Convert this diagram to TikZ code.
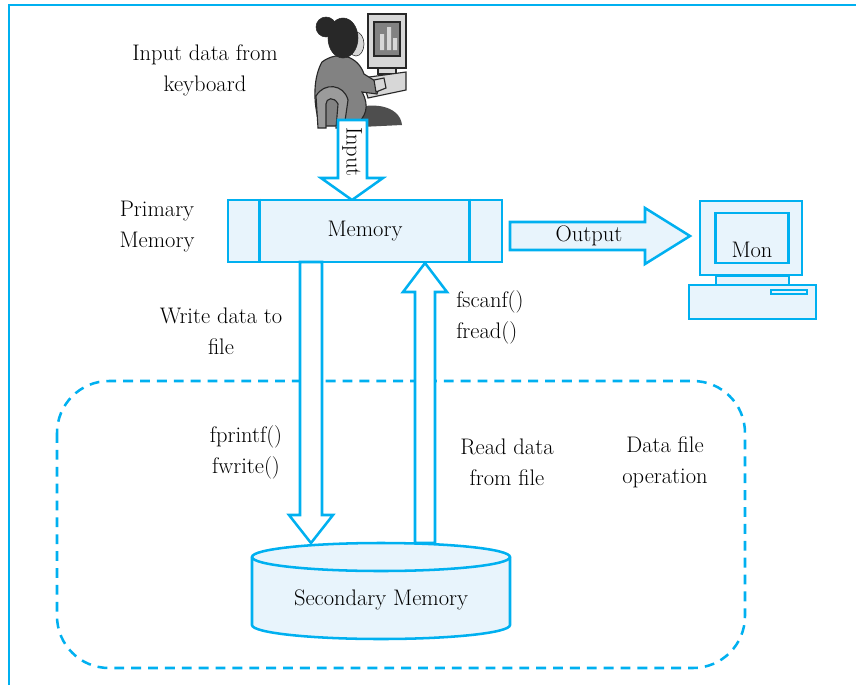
\documentclass[tikz,border=0pt]{standalone}
\usepackage{tikz}
\usepackage{xcolor}
\definecolor{cy}{RGB}{0, 176, 240}
\definecolor{lb}{RGB}{232, 244, 252}
\definecolor{hair}{RGB}{40, 40, 40}
\definecolor{gry}{RGB}{130, 130, 130}
\definecolor{lgr}{RGB}{215, 215, 215}

\tikzset{
    txt/.style={font=\fontsize{16}{22}\selectfont, align=center, inner sep=0pt},
    edge/.style={draw=cy, line width=1.8pt},
    blk/.style={draw=cy, fill=lb, line width=1.8pt},
    hollow/.style={draw=cy, fill=white, line width=1.8pt, line join=miter},
}

\begin{document}
\begin{tikzpicture}[x=0.025cm, y=-0.025cm]
        \useasboundingbox (0, 0) rectangle (856, 685);
        % frame
        \draw[edge] (9, 685) -- (9, 5) -- (856, 5);

        % user at the desk
        \filldraw[draw=hair, fill=lgr, thick] (368, 14) rectangle (406, 68);
        \filldraw[draw=hair, fill=gry, thick] (374, 22) rectangle (400, 56);
        \fill[lgr] (380, 50) rectangle (384, 34) (387, 50) rectangle (391, 27) (393, 50) rectangle (397, 38);
        \filldraw[draw=hair, fill=lgr, thick] (378, 68) rectangle (396, 74);
        \filldraw[draw=hair, fill=lgr, thick] (362, 78) -- (406, 72) -- (406, 90) -- (368, 98) -- cycle;
        \fill[gry!60!black] (345, 112) .. controls (370, 100) and (400, 105) .. (402, 125) -- (340, 128) -- cycle;
        \filldraw[draw=hair, fill=gry, thick] (322, 62) .. controls (338, 50) and (358, 56) .. (364, 74)
            -- (380, 84) -- (377, 94) -- (362, 92) .. controls (370, 106) and (366, 118) .. (354, 126)
            -- (320, 126) .. controls (312, 100) and (314, 76) .. cycle;
        \filldraw[draw=hair, fill=lgr, thick] (374, 80) -- (384, 78) -- (386, 88) -- (376, 92) -- cycle;
        \filldraw[draw=hair, fill=gry!80, thick] (316, 96) .. controls (324, 82) and (344, 84) .. (348, 100)
            -- (344, 128) -- (336, 128) -- (338, 104) .. controls (334, 96) and (326, 98) .. (326, 104)
            -- (326, 128) -- (318, 128) -- cycle;
        \filldraw[draw=hair, fill=lgr] (356, 44) ellipse (8 and 12);
        \filldraw[draw=hair, fill=hair] (343, 38) ellipse (15 and 20);
        \filldraw[draw=hair, fill=hair] (326, 27) circle (10);

        \node[txt] (kbd) at (205, 70) {Input data from\\keyboard};

        % input arrow into memory
        \filldraw[hollow] (338, 120) -- (367, 120) -- (367, 178) -- (383, 178) -- (352, 200)
            -- (321, 178) -- (338, 178) -- cycle;
        \node[txt, rotate=-90] (inp) at (352, 152) {Input};

        % primary memory
        \node[blk, txt, minimum width=6.85cm, minimum height=1.55cm] (mem) at (365, 231) {Memory};
        \draw[edge] (mem.north west) ++(33, 0) -- ++(0, 62);
        \draw[edge] (mem.north east) ++(-34, 0) -- ++(0, 62);
        \node[txt] (prim) at (157, 227) {Primary\\Memory};

        % output arrow to monitor
        \filldraw[blk, line join=miter] (510, 222) -- (645, 222) -- (645, 208) -- (690, 236)
            -- (645, 264) -- (645, 250) -- (510, 250) -- cycle;
        \node[txt] (outp) at (589, 236) {Output};

        % monitor
        \node[blk, minimum width=2.55cm, minimum height=1.85cm] (mon) at (751, 238) {};
        \node[blk, minimum width=1.825cm, minimum height=1.25cm] (scr) at (752, 238) {};
        \node[txt] (monl) at (752, 250) {Mon};
        \filldraw[blk] (716, 276) rectangle (789, 285);
        \filldraw[blk] (689, 285) rectangle (816, 319);
        \filldraw[blk, line width=1.2pt] (771, 290) rectangle (807, 294);

        % data file operation
        \draw[draw=cy, line width=1.8pt, dash pattern=on 7pt off 5pt, rounded corners=1.3cm]
            (57, 381) rectangle (745, 668);
        \node[txt] (dfo) at (665, 462) {Data file\\operation};

        % write to file
        \filldraw[hollow] (300, 262) -- (322, 262) -- (322, 515) -- (333, 515) -- (311, 543)
            -- (289, 515) -- (300, 515) -- cycle;
        \node[txt] (wr) at (221, 331) {Write data to\\file};
        \node[txt] (fpr) at (246, 452) {fprintf()\\fwrite()};

        % read from file
        \filldraw[hollow] (415, 543) -- (415, 292) -- (403, 292) -- (425, 263) -- (447, 292)
            -- (435, 292) -- (435, 543) -- cycle;
        \node[txt, anchor=west, align=left] (fsc) at (456, 317) {fscanf()\\fread()};
        \node[txt] (rd) at (507, 462) {Read data\\from file};

        % secondary memory
        \filldraw[blk] (252, 557) -- (252, 625) arc[start angle=180, end angle=0, x radius=129, y radius=14]
            -- (510, 557) arc[start angle=0, end angle=-180, x radius=129, y radius=14] -- cycle;
        \draw[edge] (252, 557) arc[start angle=180, end angle=0, x radius=129, y radius=14];
        \node[txt] (sec) at (381, 600) {Secondary Memory};
    \end{tikzpicture}
\end{document}
